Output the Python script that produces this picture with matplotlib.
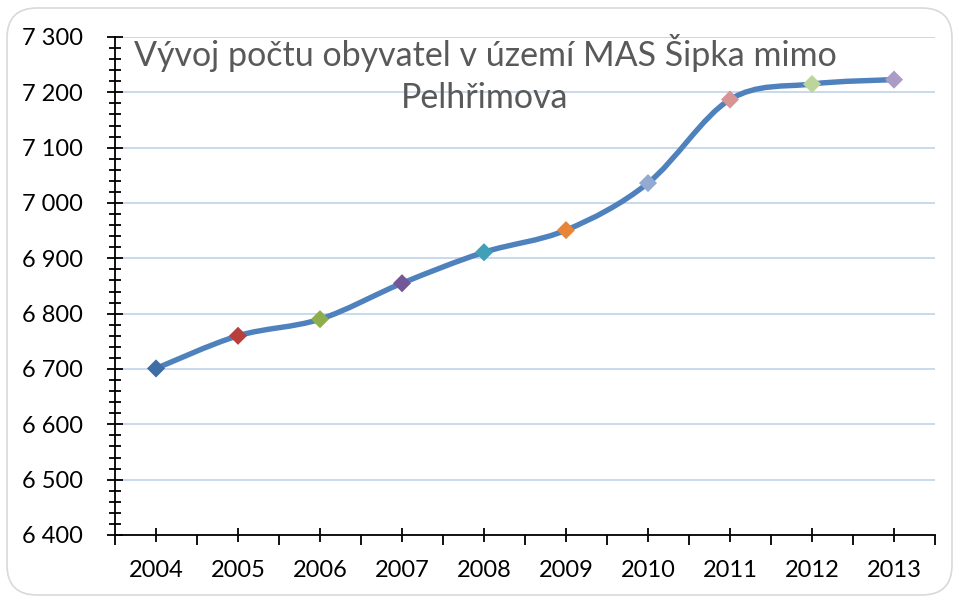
import numpy as np
import matplotlib
matplotlib.use("Agg")
import matplotlib.pyplot as plt
from matplotlib.path import Path
from matplotlib.patches import PathPatch, FancyBboxPatch
from matplotlib.ticker import MultipleLocator, FuncFormatter, FixedLocator

########## DATA ##########
years = ['2004', '2005', '2006', '2007', '2008', '2009', '2010', '2011', '2012', '2013']
population = [6701, 6760, 6790, 6855, 6911, 6951, 7036, 7187, 7215, 7223]
marker_colors = ['#3F6DA5', '#B7403C', '#8EAD4C', '#735797', '#3FA0B8',
                 '#E8843A', '#94AAD2', '#D69492', '#BDD49A', '#AA9CC6']
title = "Vývoj počtu obyvatel v území MAS Šipka mimo\nPelhřimova"
##########################

plt.rcParams['font.family'] = ['Lato', 'DejaVu Sans']

fig = plt.figure(figsize=(9.54, 5.96), dpi=100)
W, H = 954, 596
ax = fig.add_axes([115 / W, (H - 535) / H, 820 / W, (535 - 37) / H])

# rounded chart border
border = FancyBboxPatch((0.07, 0.01), 9.45, 5.87, boxstyle="round,pad=0,rounding_size=0.3",
                        transform=fig.dpi_scale_trans, facecolor='none', edgecolor='#D9D9D9',
                        linewidth=1.2, zorder=0)
fig.patches.append(border)

x = np.arange(len(years), dtype=float)
y = np.array(population, dtype=float)

# smoothed line (excel-like bezier)
pts = np.column_stack([x, y])
verts = [pts[0]]
codes = [Path.MOVETO]
n = len(pts)
for i in range(n - 1):
    p0 = pts[i - 1] if i > 0 else pts[i]
    p1 = pts[i]
    p2 = pts[i + 1]
    p3 = pts[i + 2] if i + 2 < n else pts[i + 1]
    c1 = p1 + (p2 - p0) / 6
    c2 = p2 - (p3 - p1) / 6
    verts += [c1, c2, p2]
    codes += [Path.CURVE4] * 3
ax.add_patch(PathPatch(Path(verts, codes), facecolor='none', edgecolor='#4F81BD',
                       linewidth=3.9, capstyle='round', joinstyle='round', zorder=2))
ax.scatter(x, y, marker='D', s=85, c=marker_colors, linewidths=0, zorder=3)

ax.set_xlim(-0.5, len(years) - 0.5)
ax.set_ylim(6400, 7300)

for s in ['top', 'right']:
    ax.spines[s].set_visible(False)
for s in ['left', 'bottom']:
    ax.spines[s].set_linewidth(1.3)
    ax.spines[s].set_color('black')

ax.yaxis.set_major_locator(MultipleLocator(100))
ax.yaxis.set_minor_locator(MultipleLocator(20))
ax.yaxis.set_major_formatter(FuncFormatter(lambda v, p: f"{v:,.0f}".replace(',', ' ')))
ax.tick_params(axis='y', which='major', direction='inout', length=12, width=1.3, pad=17,
               labelsize=17)
ax.tick_params(axis='y', which='minor', direction='inout', length=9, width=1.3)

ax.set_xticks(x)
ax.set_xticklabels(years)
ax.xaxis.set_minor_locator(FixedLocator(np.arange(-0.5, len(years), 1.0)))
ax.tick_params(axis='x', which='major', direction='inout', length=10, width=1.3, pad=13,
               labelsize=17)
ax.tick_params(axis='x', which='minor', direction='out', length=7, width=1.3)

ax.grid(axis='y', which='major', color='#C6D6EC', linewidth=1.3, zorder=1)
ax.set_axisbelow(True)

fig.text(485 / W, 1 - 34 / H, title, ha='center', va='top', multialignment='center',
         fontsize=24.5, color='#595959', linespacing=1.38)

fig.savefig("out.png", dpi=100)
